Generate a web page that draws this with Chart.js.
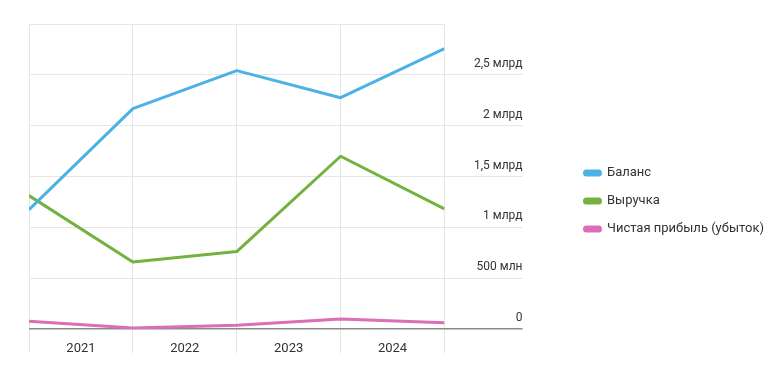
<!DOCTYPE html>
<html>
<head>
<meta charset="utf-8">
<script src="https://cdn.jsdelivr.net/npm/chart.js@4.4.1/dist/chart.umd.min.js"></script>
<style>
  html, body { margin: 0; padding: 0; background: #fff; }
  #wrap { width: 774px; height: 385px; }
</style>
</head>
<body>
<div id="wrap"><canvas id="finChart" width="774" height="385"></canvas></div>
<script>
const years = ['2021', '2022', '2023', '2024'];
const periodIndex = [0, 1, 2, 3, 4];
const balance = [1.174e9, 2.167e9, 2.541e9, 2.275e9, 2.758e9];
const revenue = [1.312e9, 0.658e9, 0.762e9, 1.699e9, 1.180e9];
const netProfit = [0.076e9, 0.010e9, 0.036e9, 0.099e9, 0.062e9];
const yTicks = [0, 5e8, 1e9, 1.5e9, 2e9, 2.5e9, 3e9];
const yTickLabels = ['0', '500 млн', '1 млрд', '1,5 млрд', '2 млрд', '2,5 млрд', ''];

const FONT = 'Roboto';
const gridColor = '#e6e6e6';
const zeroColor = '#8a8a8a';
const textColor = '#333333';

function pts(values) {
  return values.map(function (v, i) { return { x: periodIndex[i], y: v }; });
}

const ctx = document.getElementById('finChart').getContext('2d');
new Chart(ctx, {
  type: 'line',
  data: {
    datasets: [
      { label: 'Баланс', data: pts(balance), borderColor: '#4cb2e5', backgroundColor: '#4cb2e5' },
      { label: 'Выручка', data: pts(revenue), borderColor: '#74b23f', backgroundColor: '#74b23f' },
      { label: 'Чистая прибыль (убыток)', data: pts(netProfit), borderColor: '#dc6db6', backgroundColor: '#dc6db6' }
    ]
  },
  options: {
    responsive: false,
    animation: false,
    layout: { padding: { left: 29, top: 24, bottom: 22, right: 0 } },
    elements: {
      line: { borderWidth: 3, tension: 0, borderJoinStyle: 'round' },
      point: { radius: 0 }
    },
    plugins: {
      tooltip: { enabled: false },
      legend: {
        position: 'right',
        maxWidth: 240,
        title: { display: true, text: ' ', font: { size: 1 }, padding: { top: 14, bottom: 0 } },
        labels: {
          font: { family: FONT, size: 13 },
          color: textColor,
          boxWidth: 16,
          boxHeight: 4,
          useBorderRadius: true,
          borderRadius: 2,
          padding: 15
        }
      }
    },
    scales: {
      x: {
        type: 'linear',
        min: 0,
        max: 4,
        border: { display: false },
        afterFit: function (s) { s.height = 34; },
        grid: {
          color: function (c) { return Number.isInteger(c.tick.value) ? gridColor : 'rgba(0,0,0,0)'; },
          tickColor: function (c) { return Number.isInteger(c.tick.value) ? gridColor : 'rgba(0,0,0,0)'; },
          tickLength: 24
        },
        ticks: {
          stepSize: 0.5,
          autoSkip: false,
          maxRotation: 0,
          padding: -12,
          color: textColor,
          font: { family: FONT, size: 13 },
          callback: function (v) { return Number.isInteger(v) ? '' : years[Math.floor(v)]; }
        }
      },
      y: {
        position: 'right',
        min: 0,
        max: 3e9,
        border: { display: false },
        afterFit: function (s) {
          s.width = 125;
          // mirrored labels sit under the long tick marks, no extra room needed above/below
          s.paddingTop = 0;
          s.paddingBottom = 0;
        },
        grid: {
          color: function (c) { return c.tick.value === 0 ? zeroColor : gridColor; },
          tickColor: function (c) {
            if (c.tick.value === 0) return zeroColor;
            return c.tick.value === 3e9 ? 'rgba(0,0,0,0)' : gridColor;
          },
          lineWidth: function (c) { return c.tick.value === 0 ? 1.5 : 1; },
          tickLength: 78
        },
        afterBuildTicks: function (s) { s.ticks = yTicks.map(function (v) { return { value: v }; }); },
        ticks: {
          mirror: true,
          padding: 78,
          labelOffset: -11,
          color: textColor,
          font: { family: FONT, size: 12 },
          callback: function (v) { return yTickLabels[yTicks.indexOf(v)]; }
        }
      }
    }
  }
});
</script>
</body>
</html>
